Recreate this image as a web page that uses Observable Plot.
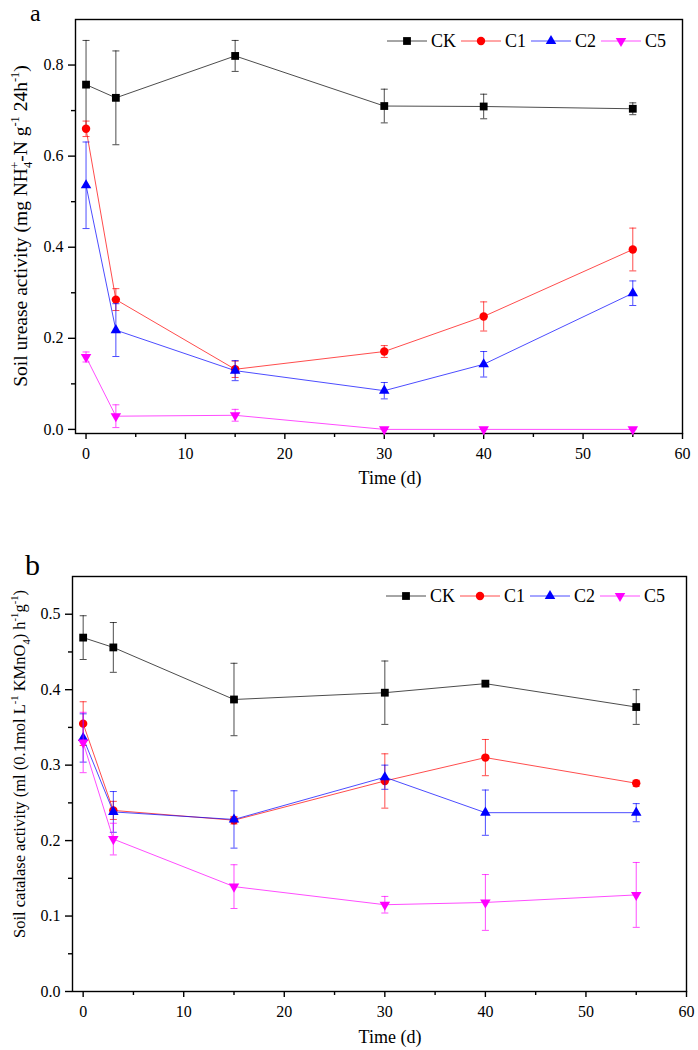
<!DOCTYPE html>
<html>
<head>
<meta charset="utf-8">
<script src="https://cdn.jsdelivr.net/npm/d3@7"></script>
<script src="https://cdn.jsdelivr.net/npm/@observablehq/plot@0.6"></script>
<style>
  body { margin: 0; background: #fff; }
  #wrap { width: 698px; height: 1050px; font-family: "Liberation Serif", "Times New Roman", serif; }
  #wrap svg { display: block; }
  #wrap svg text { font-family: "Liberation Serif", "Times New Roman", serif; }
</style>
</head>
<body>
<div id="wrap"></div>
<script>
// ---------- data ----------
const days = [0, 3, 15, 30, 40, 55];
const series = ["CK", "C1", "C2", "C5"];
const seriesColors = ["#000000", "#ff0000", "#0000ff", "#ff00ff"];

// Panel a: soil urease activity
const ureaseCK = [0.757, 0.728, 0.820, 0.710, 0.709, 0.704];
const ureaseCKErr = [0.097, 0.103, 0.034, 0.037, 0.027, 0.013];
const ureaseC1 = [0.660, 0.285, 0.132, 0.171, 0.248, 0.395];
const ureaseC1Err = [0.017, 0.024, 0.018, 0.013, 0.032, 0.047];
const ureaseC2 = [0.536, 0.218, 0.129, 0.085, 0.143, 0.299];
const ureaseC2Err = [0.095, 0.058, 0.022, 0.018, 0.028, 0.027];
const ureaseC5 = [0.159, 0.029, 0.031, 0.000, 0.000, 0.000];
const ureaseC5Err = [0.011, 0.025, 0.013, 0.000, 0.000, 0.000];

// Panel b: soil catalase activity
const catalaseCK = [0.469, 0.456, 0.387, 0.396, 0.408, 0.377];
const catalaseCKErr = [0.029, 0.033, 0.048, 0.042, 0.002, 0.023];
const catalaseC1 = [0.355, 0.240, 0.227, 0.279, 0.310, 0.276];
const catalaseC1Err = [0.029, 0.012, 0.005, 0.036, 0.024, 0.004];
const catalaseC2 = [0.336, 0.238, 0.228, 0.284, 0.237, 0.237];
const catalaseC2Err = [0.032, 0.027, 0.038, 0.016, 0.030, 0.012];
const catalaseC5 = [0.330, 0.202, 0.139, 0.115, 0.118, 0.128];
const catalaseC5Err = [0.040, 0.021, 0.029, 0.011, 0.037, 0.043];

// ticks
const xMajorTicks = [0, 10, 20, 30, 40, 50, 60];
const xMinorTicks = [5, 15, 25, 35, 45, 55];
const ureaseMajorTicks = [0, 0.2, 0.4, 0.6, 0.8];
const ureaseMinorTicks = [0.1, 0.3, 0.5, 0.7];
const catalaseMajorTicks = [0, 0.1, 0.2, 0.3, 0.4, 0.5];
const catalaseMinorTicks = [0.05, 0.15, 0.25, 0.35, 0.45];

// ---------- symbols ----------
const sqrt3 = Math.sqrt(3);
const triUp = { draw(ctx, size) { const y = -Math.sqrt(size / (sqrt3 * 3)); ctx.moveTo(0, y * 2); ctx.lineTo(-sqrt3 * y, -y); ctx.lineTo(sqrt3 * y, -y); ctx.closePath(); } };
const triDown = { draw(ctx, size) { const y = Math.sqrt(size / (sqrt3 * 3)); ctx.moveTo(0, y * 2); ctx.lineTo(-sqrt3 * y, -y); ctx.lineTo(sqrt3 * y, -y); ctx.closePath(); } };
const capSym = { draw(ctx) { ctx.moveTo(-3.5, 0); ctx.lineTo(3.5, 0); } };
const markerSyms = [d3.symbolSquare, d3.symbolCircle, triUp, triDown];
const markerR = [4.4, 4.2, 3.9, 3.9];
const serif = "Liberation Serif";

function rowsOf(values, errs) {
  const out = [];
  series.forEach((s, i) => days.forEach((t, j) => out.push({ s, t, v: values[i][j], e: errs[i][j] })));
  return out;
}

function richText(sel, parts, size) {
  let shift = 0;
  for (const p of parts) {
    const target = p.sup ? -0.42 * size : p.sub ? 0.28 * size : 0;
    const ts = sel.append("tspan").text(p.t).attr("dy", target - shift);
    if (p.sup || p.sub) ts.attr("font-size", size * 0.64);
    if (p.dx) ts.attr("dx", p.dx);
    shift = target;
  }
}

function makePanel(cfg) {
  const data = rowsOf(cfg.values, cfg.errs);
  const marks = [
    Plot.frame({ stroke: "#000", strokeWidth: 1.4 }),
    Plot.axisY({ ticks: cfg.yMajor, tickSize: 7, tickPadding: 5, tickFormat: d3.format(".1f"), label: null, strokeWidth: 1.4, fontFamily: serif }),
    Plot.axisY({ ticks: cfg.yMinor, tickSize: 4, tickFormat: () => "", label: null, strokeWidth: 1.4 }),
    Plot.axisX({ ticks: xMajorTicks, tickSize: 6, tickPadding: 8, tickFormat: d3.format("d"), label: null, strokeWidth: 1.4, fontFamily: serif }),
    Plot.axisX({ ticks: xMinorTicks, tickSize: 4, tickFormat: () => "", label: null, strokeWidth: 1.4 })
  ];
  series.forEach((s, i) => {
    const d = data.filter(r => r.s === s);
    const c = seriesColors[i];
    marks.push(Plot.line(d, { x: "t", y: "v", stroke: c, strokeWidth: 1, strokeOpacity: 0.7 }));
    marks.push(Plot.ruleX(d, { x: "t", y1: r => r.v - r.e, y2: r => r.v + r.e, stroke: c, strokeWidth: 1, strokeOpacity: 0.7 }));
    marks.push(Plot.dot(d, { x: "t", y: r => r.v + r.e, symbol: capSym, r: 3, stroke: c, strokeWidth: 1, strokeOpacity: 0.7, fill: "none" }));
    marks.push(Plot.dot(d, { x: "t", y: r => r.v - r.e, symbol: capSym, r: 3, stroke: c, strokeWidth: 1, strokeOpacity: 0.7, fill: "none" }));
    marks.push(Plot.dot(d, { x: "t", y: "v", symbol: markerSyms[i], r: markerR[i], fill: c, stroke: "none" }));
  });
  const svg = Plot.plot({
    width: 698,
    height: cfg.height,
    marginLeft: cfg.ml, marginRight: cfg.mr, marginTop: cfg.mt, marginBottom: cfg.mb,
    x: { domain: [-1.06, 60] },
    y: { domain: cfg.yDomain },
    style: { fontFamily: "'Liberation Serif', 'Times New Roman', serif", fontSize: "16px", color: "#000", background: "#fff", overflow: "visible" },
    marks
  });
  const g = d3.select(svg);
  // panel letter
  g.append("text").attr("x", cfg.letterX).attr("y", cfg.letterY).attr("text-anchor", "start")
    .attr("font-size", cfg.letterSize).attr("fill", "#000").text(cfg.letter);
  // y title
  const yt = g.append("text")
    .attr("transform", `translate(${cfg.ytX},${cfg.ytY}) rotate(-90)`)
    .attr("text-anchor", "middle").attr("font-size", cfg.ytSize).attr("fill", "#000");
  richText(yt, cfg.yTitle, cfg.ytSize);
  // x title
  g.append("text").attr("x", 390).attr("y", cfg.xtY).attr("text-anchor", "middle")
    .attr("font-size", 18).attr("fill", "#000").text("Time (d)");
  // legend
  const lg = g.append("g").attr("transform", `translate(${cfg.legX},${cfg.legY})`);
  const offs = [0, 74, 144, 214];
  series.forEach((s, i) => {
    const it = lg.append("g").attr("transform", `translate(${offs[i]},0)`);
    it.append("line").attr("x1", 0).attr("x2", 40).attr("y1", 0).attr("y2", 0)
      .attr("stroke", seriesColors[i]).attr("stroke-width", 1).attr("stroke-opacity", 0.7);
    it.append("path").attr("transform", "translate(20,0)")
      .attr("d", d3.symbol(markerSyms[i], Math.PI * markerR[i] * markerR[i])())
      .attr("fill", seriesColors[i]);
    it.append("text").attr("x", 44).attr("dy", "0.35em").attr("text-anchor", "start")
      .attr("font-size", 18).attr("fill", "#000").text(s);
  });
  return svg;
}

const wrap = document.getElementById("wrap");

wrap.appendChild(makePanel({
  values: [ureaseCK, ureaseC1, ureaseC2, ureaseC5],
  errs: [ureaseCKErr, ureaseC1Err, ureaseC2Err, ureaseC5Err],
  yMajor: ureaseMajorTicks, yMinor: ureaseMinorTicks,
  yDomain: [-0.009, 0.9],
  height: 490, ml: 75, mr: 16, mt: 19, mb: 57,
  letter: "a", letterX: 30, letterY: 21, letterSize: 24,
  ytX: 27, ytY: 226, ytSize: 19.5,
  yTitle: [{ t: "Soil urease activity (mg NH" }, { t: "4", sub: true }, { t: "+", sup: true, dx: -7 }, { t: "-N g" }, { t: "-1", sup: true }, { t: " 24h" }, { t: "-1", sup: true }, { t: ")" }],
  xtY: 484,
  legX: 387, legY: 41
}));

wrap.appendChild(makePanel({
  values: [catalaseCK, catalaseC1, catalaseC2, catalaseC5],
  errs: [catalaseCKErr, catalaseC1Err, catalaseC2Err, catalaseC5Err],
  yMajor: catalaseMajorTicks, yMinor: catalaseMinorTicks,
  yDomain: [0, 0.55],
  height: 560, ml: 72, mr: 12, mt: 86, mb: 59,
  letter: "b", letterX: 25, letterY: 85, letterSize: 30,
  ytX: 25, ytY: 274, ytSize: 16.5,
  yTitle: [{ t: "Soil catalase activity (ml (0.1mol L" }, { t: "-1", sup: true }, { t: " KMnO" }, { t: "4", sub: true }, { t: ") h" }, { t: "-1", sup: true }, { t: "g" }, { t: "-1", sup: true }, { t: ")" }],
  xtY: 553,
  legX: 386, legY: 106
}));
</script>
</body>
</html>
